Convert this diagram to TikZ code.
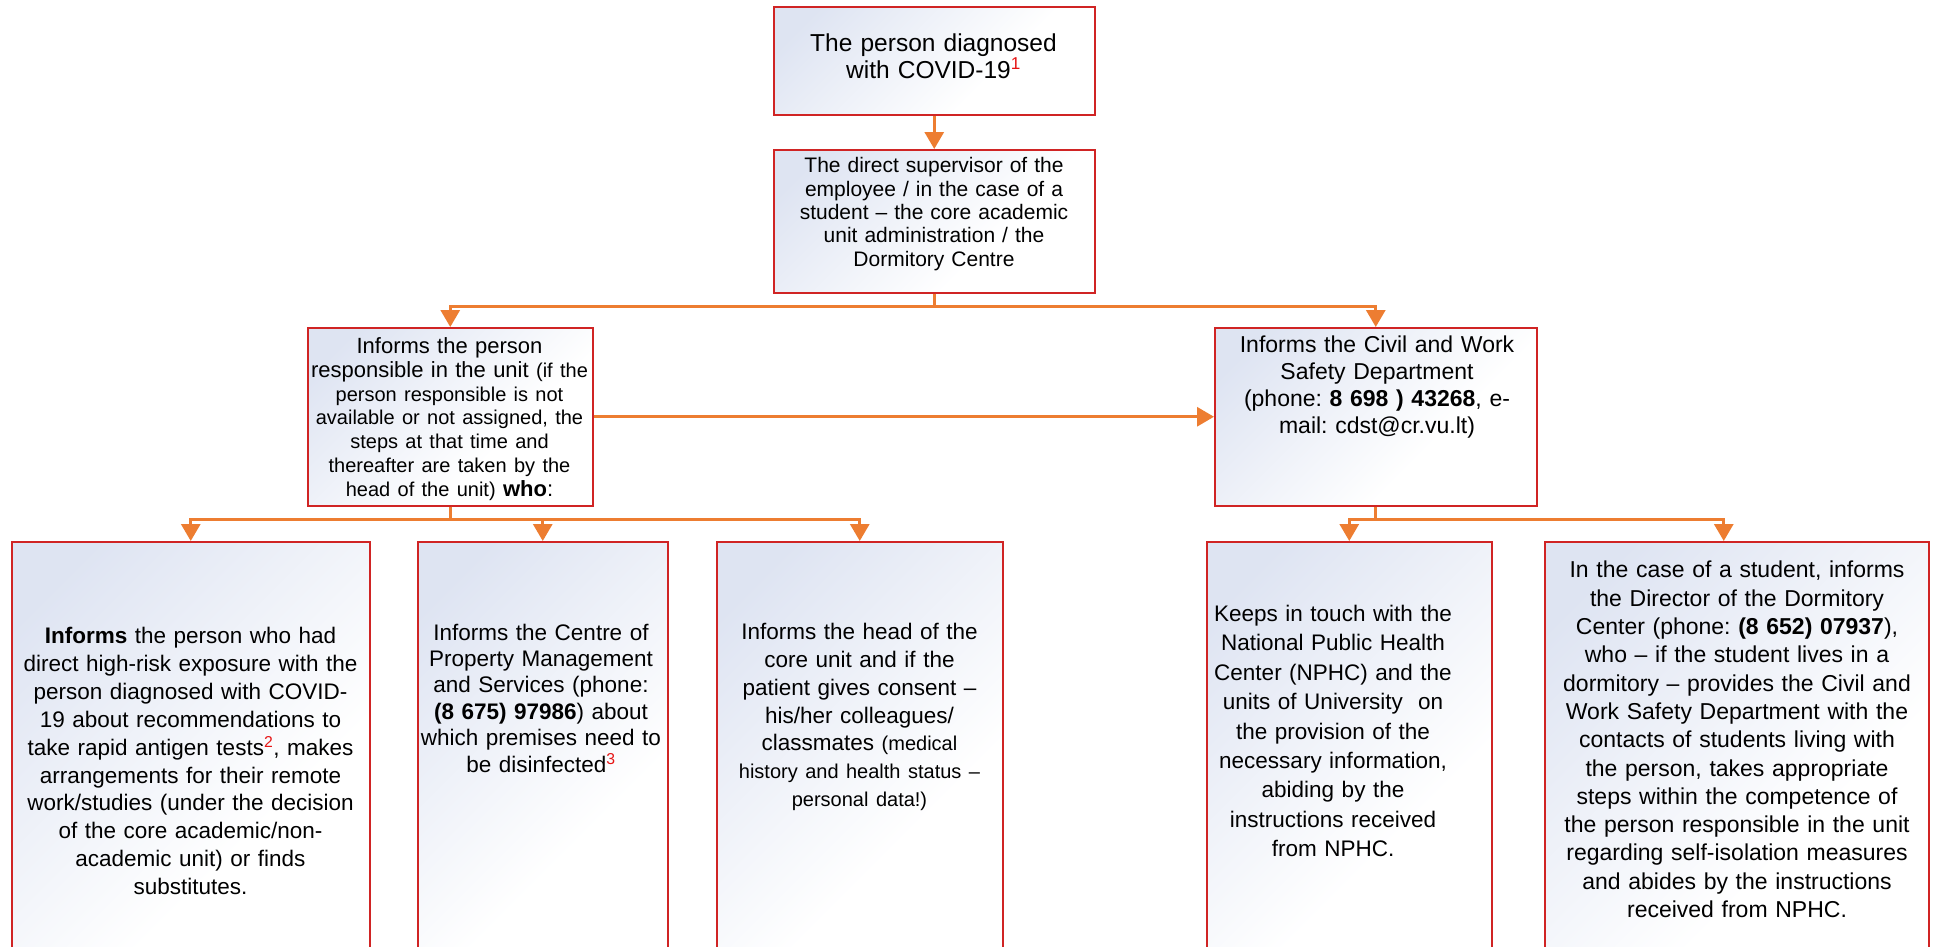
\documentclass[tikz,border=0pt]{standalone}
\usepackage{fontspec}
\setmainfont{Liberation Sans}
\usetikzlibrary{arrows.meta}
\definecolor{boxred}{RGB}{208,36,36}
\definecolor{boxtop}{RGB}{222,228,242}
\definecolor{arrorange}{RGB}{237,125,49}
\definecolor{notered}{RGB}{230,20,20}
\pgfdeclarehorizontalshading{boxshade}{100bp}{color(0bp)=(boxtop); color(22bp)=(boxtop); color(62bp)=(white); color(100bp)=(white)}
\newcommand{\fnote}[1]{\textsuperscript{\color{notered}#1}}
\newcommand{\fs}[2]{\fontsize{#1}{#2}\selectfont}
\begin{document}
\frenchspacing
\begin{tikzpicture}[x=1pt,y=-1pt,
    box/.style={draw=boxred,line width=1.5pt,shade,shading=boxshade,shading angle=-45,inner sep=0pt,anchor=north west},
    txt/.style={text width=420pt,align=center,inner sep=0pt},
    arr/.style={draw=arrorange,line width=3pt,-{Triangle[width=19pt,length=17pt]}}]
  \useasboundingbox (0,0) rectangle (1934,946);
  \clip (0,0) rectangle (1934,946);
  \fill[white] (0,0) rectangle (1934,946);

  % boxes
  \node [box,minimum width=321pt,minimum height=108pt] (1) at (773,6) {};
  \node [box,minimum width=321pt,minimum height=143pt] (2) at (773,149) {};
  \node [box,minimum width=285pt,minimum height=178pt] (3) at (307,327) {};
  \node [box,minimum width=322pt,minimum height=178pt] (4) at (1214,327) {};
  \node [box,minimum width=358pt,minimum height=440pt] (5) at (11,541) {};
  \node [box,minimum width=250pt,minimum height=440pt] (6) at (417,541) {};
  \node [box,minimum width=286pt,minimum height=440pt] (7) at (716,541) {};
  \node [box,minimum width=285pt,minimum height=440pt] (8) at (1206,541) {};
  \node [box,minimum width=384pt,minimum height=440pt] (9) at (1544,541) {};

  % texts
  \node [txt,font=\fs{24.5}{26.7}] (1t) at (933.5,56) {The person diagnosed\\with COVID-19\fnote{1}};
  \node [txt,font=\fs{21}{23.3}] (2t) at (934,214) {The direct supervisor of the\\employee / in the case of a\\student – the core academic\\unit administration / the\\Dormitory Centre};
  \node [txt,font=\fs{22}{23.7}] (3t) at (449.5,419) {Informs the person\\responsible in the unit {\fs{20}{23.7}(if the\\person responsible is not\\available or not assigned, the\\steps at that time and\\thereafter are taken by the\\head of the unit)} \textbf{who}:};
  \node [txt,font=\fs{23}{27.3}] (4t) at (1377,387) {Informs the Civil and Work\\Safety Department\\(phone: \textbf{8 698 ) 43268}, e-\\mail: cdst@cr.vu.lt)};
  \node [txt,font=\fs{22.5}{27.9}] (5t) at (190.5,761) {\textbf{Informs} the person who had\\direct high-risk exposure with the\\person diagnosed with COVID-\\19 about recommendations to\\take rapid antigen tests\fnote{2}, makes\\arrangements for their remote\\work/studies (under the decision\\of the core academic/non-\\academic unit) or finds\\substitutes.};
  \node [txt,font=\fs{22.5}{26.4}] (6t) at (541,698) {Informs the Centre of\\Property Management\\and Services (phone:\\\textbf{(8 675) 97986}) about\\which premises need to\\be disinfected\fnote{3}};
  \node [txt,font=\fs{22.5}{27.7}] (7t) at (859.5,717) {Informs the head of the\\core unit and if the\\patient gives consent –\\his/her colleagues/\\classmates {\fs{20}{27.7}(medical\\history and health status –\\personal data!)}};
  \node [txt,font=\fs{22.5}{29.4}] (8t) at (1333,731) {Keeps in touch with the\\National Public Health\\Center (NPHC) and the\\units of University\ \ on\\the provision of the\\necessary information,\\abiding by the\\instructions received\\from NPHC.};
  \node [txt,font=\fs{23}{28.3}] (9t) at (1737,739.5) {In the case of a student, informs\\the Director of the Dormitory\\Center (phone: \textbf{(8 652) 07937}),\\who – if the student lives in a\\dormitory – provides the Civil and\\Work Safety Department with the\\contacts of students living with\\the person, takes appropriate\\steps within the competence of\\the person responsible in the unit\\regarding self-isolation measures\\and abides by the instructions\\received from NPHC.};

  % connectors
  \draw[arr] (1) -- (2);
  \draw[arr] (2.south) -- ++(0,13) -| (3.north);
  \draw[arr] (2.south) -- ++(0,13) -| (4.north);
  \draw[arr] (3) -- (4);
  \draw[arr] (3.south) -- ++(0,13) -| (5.north);
  \draw[arr] (3.south) -- ++(0,13) -| (6.north);
  \draw[arr] (3.south) -- ++(0,13) -| (7.north);
  \draw[arr] (4.south) -- ++(0,13) -| (8.north);
  \draw[arr] (4.south) -- ++(0,13) -| ([xshift=-13pt]9.north);
\end{tikzpicture}
\end{document}
